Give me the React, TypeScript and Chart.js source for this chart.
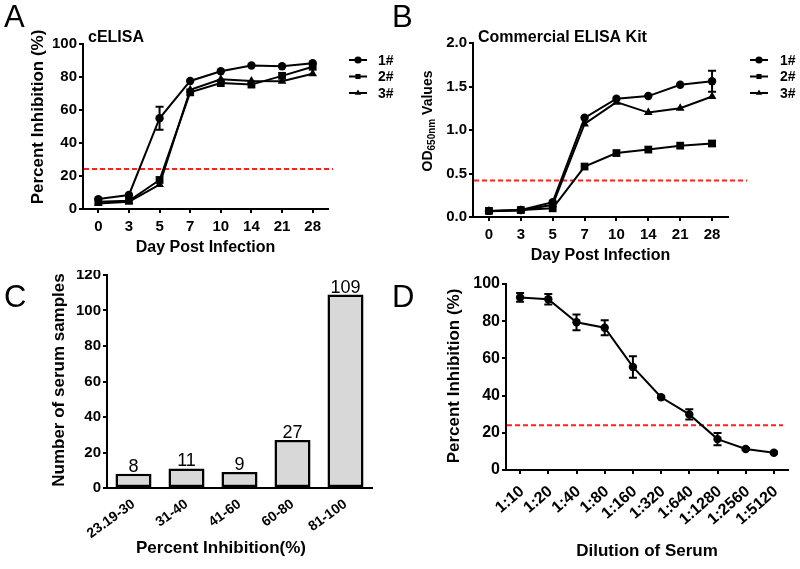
import React, { useEffect, useRef } from 'react';
import { Chart, registerables } from 'chart.js';

Chart.register(...registerables);

const FONT = "'Liberation Sans', Arial, Helvetica, sans-serif";
const BLACK = '#000000';
const RED = '#ff1f1f';
const BAR_FILL = '#d8d8d8';

// ---------- Panel A: cELISA ----------
const dayLabels = ['0', '3', '5', '7', '10', '14', '21', '28'];
const seriesLabels = ['1#', '2#', '3#'];
const celisa1 = [6, 8.5, 55, 77.6, 83.5, 87, 86.5, 88.3];
const celisa1Err = [0, 0, 7, 0, 0, 0, 0, 0];
const celisa2 = [4.4, 5, 17.6, 70.7, 76.3, 75.4, 80.7, 86.2];
const celisa3 = [3.3, 4.4, 14.8, 72.3, 78.6, 77.6, 77.4, 82];
const celisaCutoff = 24.2;
const percentTicks = [0, 20, 40, 60, 80, 100];

// ---------- Panel B: Commercial ELISA Kit ----------
const kit1 = [0.07, 0.08, 0.17, 1.14, 1.36, 1.39, 1.52, 1.56];
const kit1Err = [0, 0, 0, 0, 0, 0, 0, 0.12];
const kit2 = [0.07, 0.08, 0.1, 0.58, 0.735, 0.775, 0.82, 0.845];
const kit2Err = [0, 0, 0, 0, 0, 0, 0, 0.03];
const kit3 = [0.065, 0.075, 0.14, 1.07, 1.32, 1.2, 1.25, 1.385];
const kitCutoff = 0.42;
const odTicks = [0, 0.5, 1.0, 1.5, 2.0];

// ---------- Panel C: distribution ----------
const inhibitionBins = ['23.19-30', '31-40', '41-60', '60-80', '81-100'];
const sampleCounts = [8, 11, 9, 27, 109];
const countTicks = [0, 20, 40, 60, 80, 100, 120];

// ---------- Panel D: dilution ----------
const dilutions = ['1:10', '1:20', '1:40', '1:80', '1:160', '1:320', '1:640', '1:1280', '1:2560', '1:5120'];
const dilutionMeans = [92.8, 91.8, 79.4, 76.5, 55.4, 39.1, 29.9, 16.6, 11.3, 9.3];
const dilutionErrs = [2.4, 2.8, 4.2, 4, 5.8, 0.5, 2.7, 3.3, 0.5, 0.5];
const dilutionCutoff = 24;

type Part = { text: string; font: string; dy: number };
type Decor = {
  threshold?: number;
  thresholdExtend?: number;
  errors?: (number[] | null)[];
  barLabels?: { font: string; gap: number };
  title?: { text: string; x: number; y: number; font: string };
  xTitle?: { text: string; x: number; y: number; font: string };
  yTitle: { parts: Part[]; x: number; y: number };
  legend?: { lineX: number; lineLen: number; textX: number; y: number; gap: number; font: string; radius: number; styles: string[] };
};

function drawMarker(ctx: CanvasRenderingContext2D, style: string, x: number, y: number, r: number) {
  ctx.beginPath();
  if (style === 'circle') {
    ctx.arc(x, y, r, 0, Math.PI * 2);
  } else if (style === 'rect') {
    const s = r * Math.SQRT1_2;
    ctx.rect(x - s, y - s, 2 * s, 2 * s);
  } else {
    let a = 0;
    ctx.moveTo(x + Math.sin(a) * r, y - Math.cos(a) * r);
    a += (2 * Math.PI) / 3;
    ctx.lineTo(x + Math.sin(a) * r, y - Math.cos(a) * r);
    a += (2 * Math.PI) / 3;
    ctx.lineTo(x + Math.sin(a) * r, y - Math.cos(a) * r);
    ctx.closePath();
  }
  ctx.fill();
}

function makeDecor(d: Decor) {
  return {
    id: 'decor',
    beforeDatasetsDraw(chart: any) {
      if (d.threshold === undefined) return;
      const { ctx, chartArea } = chart;
      const y = chart.scales.y.getPixelForValue(d.threshold);
      ctx.save();
      ctx.strokeStyle = RED;
      ctx.lineWidth = 2;
      ctx.setLineDash([5, 3]);
      ctx.beginPath();
      ctx.moveTo(chartArea.left + 1, y);
      ctx.lineTo(chartArea.right + (d.thresholdExtend || 0), y);
      ctx.stroke();
      ctx.restore();
    },
    afterDatasetsDraw(chart: any) {
      const { ctx } = chart;
      const ys = chart.scales.y;
      if (d.errors) {
        d.errors.forEach((errs, di) => {
          if (!errs) return;
          const meta = chart.getDatasetMeta(di);
          const vals = chart.data.datasets[di].data as number[];
          ctx.save();
          ctx.strokeStyle = BLACK;
          ctx.lineWidth = 2;
          meta.data.forEach((el: any, i: number) => {
            const e = errs[i];
            if (!e) return;
            const x = el.x;
            const y1 = ys.getPixelForValue(vals[i] + e);
            const y2 = ys.getPixelForValue(vals[i] - e);
            ctx.beginPath();
            ctx.moveTo(x, y1);
            ctx.lineTo(x, y2);
            ctx.moveTo(x - 4, y1);
            ctx.lineTo(x + 4, y1);
            ctx.moveTo(x - 4, y2);
            ctx.lineTo(x + 4, y2);
            ctx.stroke();
          });
          ctx.restore();
        });
      }
      if (d.barLabels) {
        const meta = chart.getDatasetMeta(0);
        const vals = chart.data.datasets[0].data as number[];
        ctx.save();
        ctx.fillStyle = BLACK;
        ctx.font = d.barLabels.font;
        ctx.textAlign = 'center';
        ctx.textBaseline = 'alphabetic';
        meta.data.forEach((el: any, i: number) => {
          ctx.fillText(String(vals[i]), el.x, el.y - d.barLabels!.gap);
        });
        ctx.restore();
      }
    },
    afterDraw(chart: any) {
      const { ctx } = chart;
      ctx.save();
      ctx.fillStyle = BLACK;
      if (d.title) {
        ctx.font = d.title.font;
        ctx.textAlign = 'left';
        ctx.textBaseline = 'middle';
        ctx.fillText(d.title.text, d.title.x, d.title.y);
      }
      if (d.xTitle) {
        ctx.font = d.xTitle.font;
        ctx.textAlign = 'center';
        ctx.textBaseline = 'middle';
        ctx.fillText(d.xTitle.text, d.xTitle.x, d.xTitle.y);
      }
      // rotated y-axis title
      ctx.save();
      ctx.translate(d.yTitle.x, d.yTitle.y);
      ctx.rotate(-Math.PI / 2);
      ctx.textAlign = 'left';
      ctx.textBaseline = 'middle';
      let total = 0;
      d.yTitle.parts.forEach((p) => {
        ctx.font = p.font;
        total += ctx.measureText(p.text).width;
      });
      let cx = -total / 2;
      d.yTitle.parts.forEach((p) => {
        ctx.font = p.font;
        ctx.fillText(p.text, cx, p.dy);
        cx += ctx.measureText(p.text).width;
      });
      ctx.restore();
      if (d.legend) {
        const L = d.legend;
        chart.data.datasets.forEach((ds: any, i: number) => {
          const y = L.y + i * L.gap;
          ctx.strokeStyle = BLACK;
          ctx.lineWidth = 2;
          ctx.beginPath();
          ctx.moveTo(L.lineX, y);
          ctx.lineTo(L.lineX + L.lineLen, y);
          ctx.stroke();
          drawMarker(ctx, L.styles[i], L.lineX + L.lineLen / 2, y, L.radius);
          ctx.font = L.font;
          ctx.textAlign = 'left';
          ctx.textBaseline = 'middle';
          ctx.fillText(ds.label, L.textX, y + 1);
        });
      }
      ctx.restore();
    },
  };
}

const fixW = (w: number) => (s: any) => {
  s.width = w;
  s.paddingLeft = 0; s.paddingRight = 0; s.paddingTop = 0; s.paddingBottom = 0;
};
const fixH = (h: number) => (s: any) => {
  s.height = h;
  s.paddingLeft = 0; s.paddingRight = 0; s.paddingTop = 0; s.paddingBottom = 0;
};

const boldFont = (size: number) => ({ family: FONT, size, weight: 'bold' as const });
const tickGrid = { display: true, drawOnChartArea: false, drawTicks: true, tickLength: 4, color: BLACK, lineWidth: 2, offset: false };
const axisBorder = { display: true, color: BLACK, width: 2 };

function lineSet(label: string, data: number[], style: string, radius: number) {
  return {
    label, data,
    borderColor: BLACK, backgroundColor: BLACK, borderWidth: 2,
    pointStyle: style, pointRadius: radius, pointHoverRadius: radius,
    pointBorderWidth: 0, pointBackgroundColor: BLACK,
    tension: 0, fill: false, clip: false as any,
  };
}

function baseOptions(padding: any) {
  return {
    responsive: false, animation: false as const, devicePixelRatio: 1, events: [] as any[],
    layout: { padding },
    plugins: { legend: { display: false }, tooltip: { enabled: false } },
  };
}

function buildA(): any {
  return {
    type: 'line',
    data: {
      labels: dayLabels,
      datasets: [
        lineSet(seriesLabels[0], celisa1, 'circle', 4.2),
        lineSet(seriesLabels[1], celisa2, 'rect', 5.5),
        lineSet(seriesLabels[2], celisa3, 'triangle', 5),
      ],
    },
    options: {
      ...baseOptions({ left: 0, top: 44, right: 72, bottom: 0 }),
      scales: {
        x: {
          type: 'category', offset: true, grid: tickGrid, border: axisBorder,
          ticks: { color: BLACK, font: boldFont(15), padding: 5, maxRotation: 0, minRotation: 0, autoSkip: false },
          title: { display: true, text: 'Day Post Infection', color: BLACK, font: boldFont(16), padding: { top: 0, bottom: 13 } },
          afterFit: fixH(61),
        },
        y: {
          min: 0, max: 100, grid: tickGrid, border: axisBorder,
          afterBuildTicks: (s: any) => { s.ticks = percentTicks.map((v) => ({ value: v })); },
          ticks: { color: BLACK, font: boldFont(15), padding: 2 },
          afterFit: fixW(83),
        },
      },
    },
    plugins: [makeDecor({
      threshold: celisaCutoff, thresholdExtend: 5,
      errors: [celisa1Err, null, null],
      title: { text: 'cELISA', x: 88, y: 38, font: `bold 16px ${FONT}` },
      yTitle: { parts: [{ text: 'Percent Inhibition (%)', font: `bold 17px ${FONT}`, dy: 0 }], x: 38, y: 117 },
      legend: { lineX: 349, lineLen: 18, textX: 378, y: 60, gap: 16.5, font: `bold 14px ${FONT}`, radius: 3.6, styles: ['circle', 'rect', 'triangle'] },
    })],
  };
}

function buildB(): any {
  return {
    type: 'line',
    data: {
      labels: dayLabels,
      datasets: [
        lineSet(seriesLabels[0], kit1, 'circle', 4.2),
        lineSet(seriesLabels[1], kit2, 'rect', 5.5),
        lineSet(seriesLabels[2], kit3, 'triangle', 5),
      ],
    },
    options: {
      ...baseOptions({ left: 0, top: 43, right: 72, bottom: 0 }),
      scales: {
        x: {
          type: 'category', offset: true, grid: tickGrid, border: axisBorder,
          ticks: { color: BLACK, font: boldFont(15), padding: 5, maxRotation: 0, minRotation: 0, autoSkip: false },
          title: { display: true, text: 'Day Post Infection', color: BLACK, font: boldFont(16), padding: { top: 0, bottom: 5 } },
          afterFit: fixH(53),
        },
        y: {
          min: 0, max: 2, grid: tickGrid, border: axisBorder,
          afterBuildTicks: (s: any) => { s.ticks = odTicks.map((v) => ({ value: v })); },
          ticks: { color: BLACK, font: boldFont(15), padding: 2, callback: (v: any) => Number(v).toFixed(1) },
          afterFit: fixW(73),
        },
      },
    },
    plugins: [makeDecor({
      threshold: kitCutoff, thresholdExtend: 19,
      errors: [kit1Err, kit2Err, null],
      title: { text: 'Commercial ELISA Kit', x: 78, y: 38, font: `bold 16px ${FONT}` },
      yTitle: {
        parts: [
          { text: 'OD', font: `bold 14px ${FONT}`, dy: 0 },
          { text: '650nm', font: `bold 10px ${FONT}`, dy: 4 },
          { text: ' Values', font: `bold 14px ${FONT}`, dy: 0 },
        ], x: 28, y: 121,
      },
      legend: { lineX: 350, lineLen: 18, textX: 380, y: 60, gap: 16.5, font: `bold 14px ${FONT}`, radius: 3.6, styles: ['circle', 'rect', 'triangle'] },
    })],
  };
}

function buildC(): any {
  return {
    type: 'bar',
    data: {
      labels: inhibitionBins,
      datasets: [{
        label: 'Number of serum samples', data: sampleCounts,
        backgroundColor: BAR_FILL, borderColor: BLACK, borderWidth: 2.5,
        barPercentage: 0.68, categoryPercentage: 1, borderSkipped: false,
      }],
    },
    options: {
      ...baseOptions({ left: 0, top: 5, right: 28, bottom: 0 }),
      scales: {
        x: {
          type: 'category', offset: true, grid: { display: false }, border: axisBorder,
          ticks: { color: BLACK, font: boldFont(14), padding: 0, maxRotation: 36, minRotation: 36, autoSkip: false },
          title: { display: false },
          afterFit: fixH(81),
        },
        y: {
          min: 0, max: 120, grid: tickGrid, border: axisBorder,
          afterBuildTicks: (s: any) => { s.ticks = countTicks.map((v) => ({ value: v })); },
          ticks: { color: BLACK, font: boldFont(15), padding: 2 },
          afterFit: fixW(107),
        },
      },
    },
    plugins: [makeDecor({
      barLabels: { font: `18px ${FONT}`, gap: 2 },
      xTitle: { text: 'Percent Inhibition(%)', x: 221, y: 278, font: `bold 17px ${FONT}` },
      yTitle: { parts: [{ text: 'Number of serum samples', font: `bold 17px ${FONT}`, dy: 0 }], x: 59, y: 110 },
    })],
  };
}

function buildD(): any {
  return {
    type: 'line',
    data: {
      labels: dilutions,
      datasets: [lineSet('Percent Inhibition', dilutionMeans, 'circle', 4.2)],
    },
    options: {
      ...baseOptions({ left: 0, top: 14, right: 12, bottom: 0 }),
      scales: {
        x: {
          type: 'category', offset: true, grid: tickGrid, border: axisBorder,
          ticks: { color: BLACK, font: boldFont(16), padding: 8, labelOffset: 2, maxRotation: 41, minRotation: 41, autoSkip: false },
          title: { display: true, text: 'Dilution of Serum', color: BLACK, font: boldFont(17), padding: { top: 0, bottom: 7 } },
          afterFit: fixH(99),
        },
        y: {
          min: 0, max: 100, grid: tickGrid, border: axisBorder,
          afterBuildTicks: (s: any) => { s.ticks = percentTicks.map((v) => ({ value: v })); },
          ticks: { color: BLACK, font: boldFont(16), padding: 2 },
          afterFit: fixW(106),
        },
      },
    },
    plugins: [makeDecor({
      threshold: dilutionCutoff, thresholdExtend: -5,
      errors: [dilutionErrs],
      yTitle: { parts: [{ text: 'Percent Inhibition (%)', font: `bold 17px ${FONT}`, dy: 0 }], x: 54, y: 106 },
    })],
  };
}

function ChartCanvas(props: { left: number; top: number; width: number; height: number; build: () => any }) {
  const ref = useRef<HTMLCanvasElement>(null);
  useEffect(() => {
    const chart = new Chart(ref.current as HTMLCanvasElement, props.build());
    return () => chart.destroy();
  }, []);
  return (
    <div style={{ position: 'absolute', left: props.left, top: props.top, width: props.width, height: props.height }}>
      <canvas ref={ref} width={props.width} height={props.height} style={{ display: 'block' }} />
    </div>
  );
}

function Letter(props: { ch: string; left: number; top: number }) {
  return (
    <div style={{ position: 'absolute', left: props.left, top: props.top, fontFamily: FONT, fontSize: 31, lineHeight: 1, color: BLACK }}>
      {props.ch}
    </div>
  );
}

export default function App() {
  return (
    <div style={{ position: 'absolute', left: 0, top: 0, width: 800, height: 569, overflow: 'hidden', background: '#ffffff' }}>
      <ChartCanvas left={0} top={0} width={400} height={270} build={buildA} />
      <ChartCanvas left={400} top={0} width={400} height={270} build={buildB} />
      <ChartCanvas left={0} top={270} width={400} height={299} build={buildC} />
      <ChartCanvas left={400} top={270} width={400} height={299} build={buildD} />
      <Letter ch="A" left={4} top={1} />
      <Letter ch="B" left={392} top={1} />
      <Letter ch="C" left={4} top={281} />
      <Letter ch="D" left={392} top={281} />
    </div>
  );
}
